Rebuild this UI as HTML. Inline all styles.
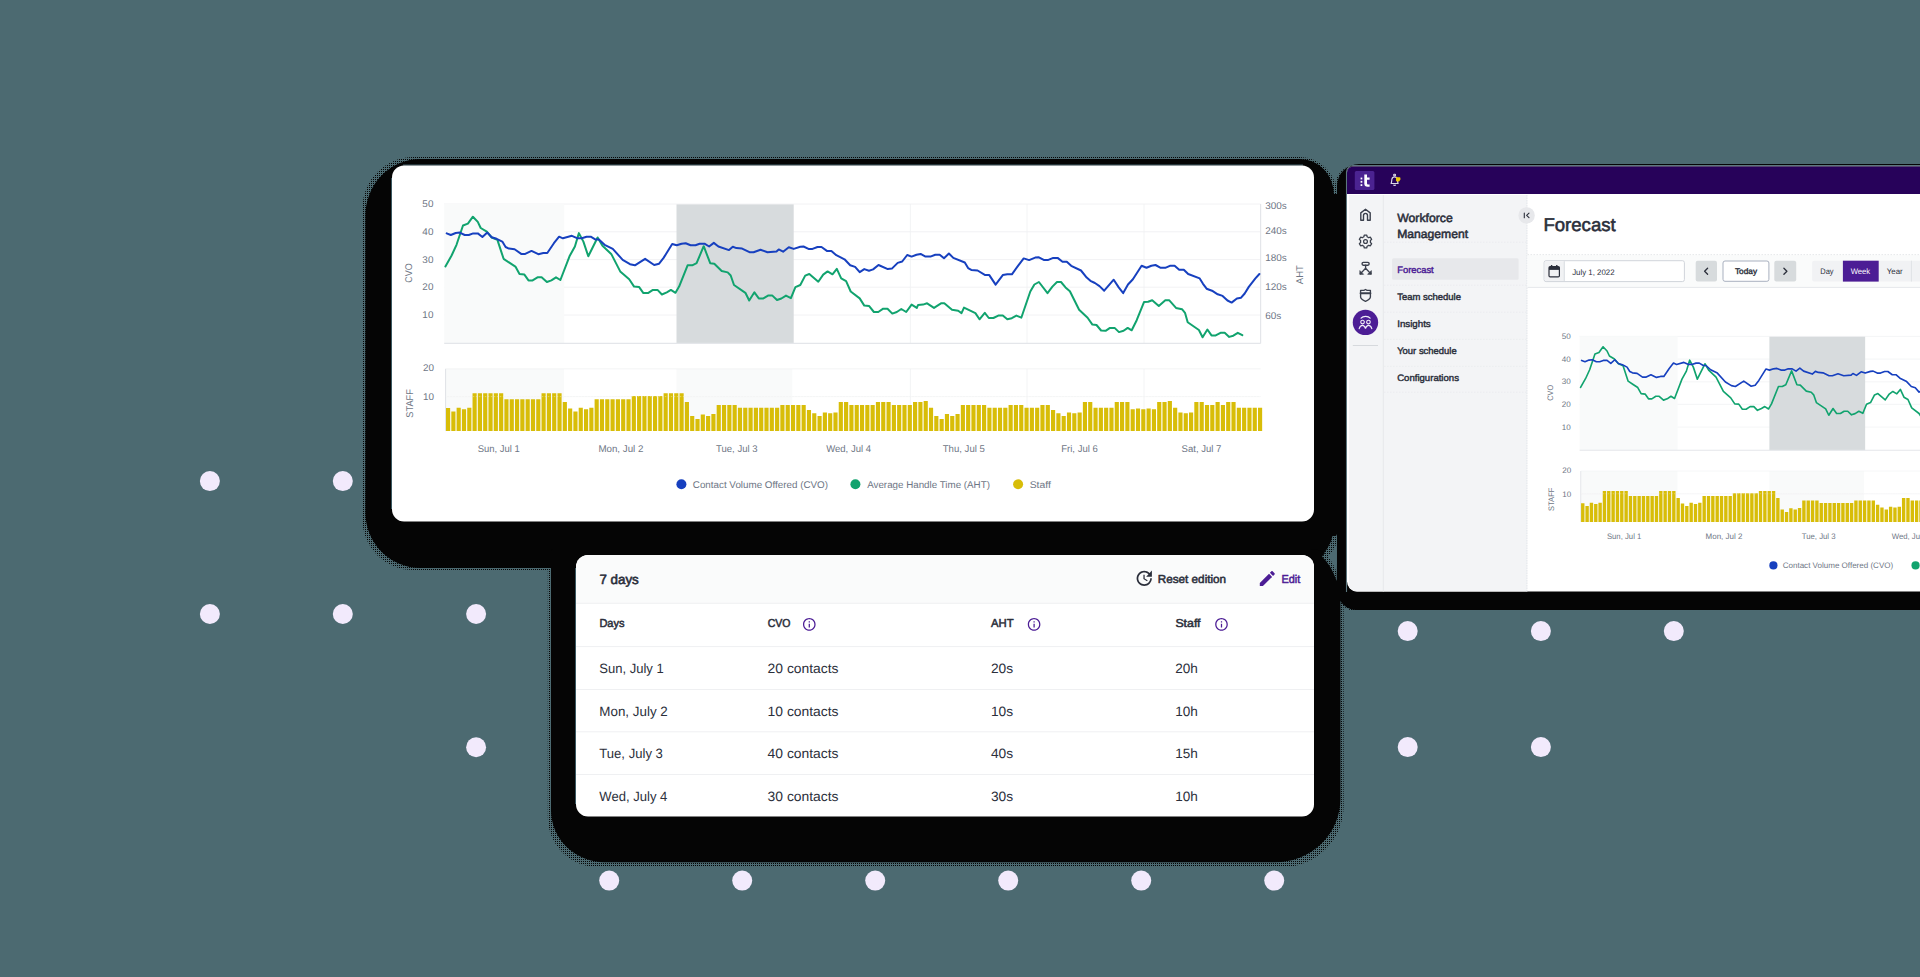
<!DOCTYPE html>
<html><head><meta charset="utf-8"><title>Forecast</title>
<style>
html,body{margin:0;padding:0;width:1920px;height:977px;overflow:hidden;background:#4c6a71;}
svg{display:block;position:absolute;left:0;top:0;font-family:"Liberation Sans",sans-serif;}
text{white-space:pre;}
</style></head><body>
<svg width="1920" height="977" viewBox="0 0 1920 977" shape-rendering="auto" text-rendering="geometricPrecision">
<defs><pattern id="dith" width="2" height="2" patternUnits="userSpaceOnUse"><rect x="1" y="1" width="1" height="1" fill="#050505"/></pattern><clipPath id="c3"><path d="M1353 166.4H1930V591.5H1357a10 10 0 0 1 -10 -10V172.4a6 6 0 0 1 6 -6z"/></clipPath><clipPath id="c3main"><rect x="1527.5" y="288" width="400" height="303"/></clipPath></defs><path d="M413.4 157.0H1300A37 38 0 0 1 1337 195.0V532.0A37 38 0 0 1 1300 570.0H413.29999999999995A50.9 50.5 0 0 1 362.4 519.5V208.6A51 51.6 0 0 1 413.4 157.0z" fill="url(#dith)"/><path d="M553.0 547H1310.4A33.2 32 0 0 1 1343.6000000000001 579V805.9999999999999A61.400000000000006 61.099999999999994 0 0 1 1282.2 867.0999999999999H597.6999999999999A49.900000000000006 49.8 0 0 1 547.8 817.3V551A5.2 4 0 0 1 553.0 547z" fill="url(#dith)"/><path d="M1359 164.1H1985A5 5 0 0 1 1990 169.1V605A5 6 0 0 1 1985 611H1357A22 21 0 0 1 1335 590V186.1A24 22 0 0 1 1359 164.1z" fill="url(#dith)"/><path d="M420.4 159.0H1300A34 36 0 0 1 1334 195.0V525.0A41 43 0 0 1 1293 568.0H420.29999999999995A54.9 55.5 0 0 1 365.4 512.5V215.6A55 56.6 0 0 1 420.4 159.0z" fill="#050505"/><path d="M553.0 549H1310.4A30 30 0 0 1 1340.4 579V799.0A65.2 63.3 0 0 1 1275.2 862.3H604.7A53.7 52 0 0 1 551.0 810.3V551A2 2 0 0 1 553.0 549z" fill="#050505"/><path d="M1359 164.1H1985A5 5 0 0 1 1990 169.1V605A5 5 0 0 1 1985 610H1357A20 20 0 0 1 1337 590V186.1A22 22 0 0 1 1359 164.1z" fill="#050505"/><rect x="1328" y="194" width="14" height="342" fill="#050505"/><rect x="1328" y="580" width="14" height="20" fill="#050505"/><path d="M1336.8 534 Q1331 548 1322 556.5 Q1331 565 1336.8 581z" fill="#4c6a71"/><path d="M1336.8 534 Q1331 548 1322 556.5 Q1331 565 1336.8 581z" fill="url(#dith)"/><path d="M1336.8 543 Q1333 552 1327.5 556.8 Q1333 562 1336.8 573z" fill="#4c6a71"/><circle cx="209.9" cy="481.1" r="10" fill="#f2eafc"/><circle cx="342.8" cy="481.1" r="10" fill="#f2eafc"/><circle cx="209.9" cy="614" r="10" fill="#f2eafc"/><circle cx="342.8" cy="614" r="10" fill="#f2eafc"/><circle cx="476.1" cy="614" r="10" fill="#f2eafc"/><circle cx="476.1" cy="747.2" r="10" fill="#f2eafc"/><circle cx="609.2" cy="880.6" r="10" fill="#f2eafc"/><circle cx="742.2" cy="880.6" r="10" fill="#f2eafc"/><circle cx="875.2" cy="880.6" r="10" fill="#f2eafc"/><circle cx="1008.2" cy="880.6" r="10" fill="#f2eafc"/><circle cx="1141.2" cy="880.6" r="10" fill="#f2eafc"/><circle cx="1274.2" cy="880.6" r="10" fill="#f2eafc"/><circle cx="1407.7" cy="631.1" r="10" fill="#f2eafc"/><circle cx="1540.9" cy="631.1" r="10" fill="#f2eafc"/><circle cx="1673.8" cy="631.1" r="10" fill="#f2eafc"/><circle cx="1407.7" cy="747.1" r="10" fill="#f2eafc"/><circle cx="1540.9" cy="747.1" r="10" fill="#f2eafc"/><path d="M403 165H1303M391.6 178V509" fill="none" stroke="#4a6d78" stroke-width="0.9"/><path d="M575.6 568V804" fill="none" stroke="#4a6d78" stroke-width="0.9"/><rect x="392" y="165.4" width="922" height="356.20000000000005" rx="12" ry="12" fill="#ffffff" /><g id="chart"><line x1="444.2" x2="1260.6" y1="204.0" y2="204.0" stroke="#f0f1f3" stroke-width="0.9"/><line x1="444.2" x2="1260.6" y1="231.8" y2="231.8" stroke="#f0f1f3" stroke-width="0.9"/><line x1="444.2" x2="1260.6" y1="259.6" y2="259.6" stroke="#f0f1f3" stroke-width="0.9"/><line x1="444.2" x2="1260.6" y1="287.2" y2="287.2" stroke="#f0f1f3" stroke-width="0.9"/><line x1="444.2" x2="1260.6" y1="315.0" y2="315.0" stroke="#f0f1f3" stroke-width="0.9"/><line x1="910.4" x2="910.4" y1="204.0" y2="343.4" stroke="#f0f1f3" stroke-width="0.8"/><line x1="910.4" x2="910.4" y1="368.8" y2="431.1" stroke="#f0f1f3" stroke-width="0.8"/><line x1="1027.0" x2="1027.0" y1="204.0" y2="343.4" stroke="#f0f1f3" stroke-width="0.8"/><line x1="1027.0" x2="1027.0" y1="368.8" y2="431.1" stroke="#f0f1f3" stroke-width="0.8"/><line x1="1144.0" x2="1144.0" y1="204.0" y2="343.4" stroke="#f0f1f3" stroke-width="0.8"/><line x1="1144.0" x2="1144.0" y1="368.8" y2="431.1" stroke="#f0f1f3" stroke-width="0.8"/><rect x="444.2" y="204.0" width="120.00000000000006" height="139.39999999999998" fill="#f9fafa"/><rect x="676.5" y="204.4" width="117.20000000000005" height="138.99999999999997" fill="#d7dbdd"/><rect x="445.8" y="368.8" width="118.19999999999999" height="62.30000000000001" fill="#f9fafa"/><rect x="676.5" y="368.8" width="115.79999999999995" height="62.30000000000001" fill="#f9fafa"/><line x1="444.2" x2="1260.6" y1="343.4" y2="343.4" stroke="#e4e6ea" stroke-width="1.3"/><line x1="1260.6" x2="1260.6" y1="204.0" y2="343.4" stroke="#e4e6ea" stroke-width="1.2"/><line x1="445.8" x2="1260.6" y1="368.8" y2="368.8" stroke="#f0f1f3" stroke-width="0.8"/><line x1="445.8" x2="1260.6" y1="396.6" y2="396.6" stroke="#f0f1f3" stroke-width="0.8"/><line x1="445.6" x2="445.6" y1="368.8" y2="431.1" stroke="#dfe2e6" stroke-width="1"/><path d="M446.00 431.1V408.12h4.15V431.1zM451.31 431.1V411.56h4.15V431.1zM456.61 431.1V407.66h4.15V431.1zM461.92 431.1V409.22h4.15V431.1zM467.23 431.1V407.66h4.15V431.1zM472.54 431.1V393.28h4.15V431.1zM477.84 431.1V393.28h4.15V431.1zM483.15 431.1V393.28h4.15V431.1zM488.46 431.1V393.28h4.15V431.1zM493.76 431.1V393.28h4.15V431.1zM499.07 431.1V393.28h4.15V431.1zM504.38 431.1V399.22h4.15V431.1zM509.69 431.1V399.22h4.15V431.1zM514.99 431.1V399.22h4.15V431.1zM520.30 431.1V399.22h4.15V431.1zM525.61 431.1V399.22h4.15V431.1zM530.92 431.1V399.22h4.15V431.1zM536.22 431.1V399.22h4.15V431.1zM541.53 431.1V393.28h4.15V431.1zM546.84 431.1V393.28h4.15V431.1zM552.14 431.1V393.28h4.15V431.1zM557.45 431.1V393.28h4.15V431.1zM562.76 431.1V401.88h4.15V431.1zM568.07 431.1V408.44h4.15V431.1zM573.37 431.1V411.56h4.15V431.1zM578.68 431.1V407.66h4.15V431.1zM583.99 431.1V409.22h4.15V431.1zM589.29 431.1V407.66h4.15V431.1zM594.60 431.1V399.22h4.15V431.1zM599.91 431.1V399.22h4.15V431.1zM605.22 431.1V399.22h4.15V431.1zM610.52 431.1V399.22h4.15V431.1zM615.83 431.1V399.22h4.15V431.1zM621.14 431.1V399.22h4.15V431.1zM626.44 431.1V399.22h4.15V431.1zM631.75 431.1V396.09h4.15V431.1zM637.06 431.1V396.09h4.15V431.1zM642.37 431.1V396.09h4.15V431.1zM647.67 431.1V396.09h4.15V431.1zM652.98 431.1V396.09h4.15V431.1zM658.29 431.1V396.09h4.15V431.1zM663.59 431.1V393.28h4.15V431.1zM668.90 431.1V393.28h4.15V431.1zM674.21 431.1V393.28h4.15V431.1zM679.52 431.1V393.28h4.15V431.1zM684.82 431.1V401.88h4.15V431.1zM690.13 431.1V415.94h4.15V431.1zM695.44 431.1V419.06h4.15V431.1zM700.75 431.1V414.38h4.15V431.1zM706.05 431.1V415.94h4.15V431.1zM711.36 431.1V414.06h4.15V431.1zM716.67 431.1V405.00h4.15V431.1zM721.97 431.1V405.00h4.15V431.1zM727.28 431.1V405.00h4.15V431.1zM732.59 431.1V405.00h4.15V431.1zM737.90 431.1V407.81h4.15V431.1zM743.20 431.1V407.81h4.15V431.1zM748.51 431.1V407.81h4.15V431.1zM753.82 431.1V407.81h4.15V431.1zM759.12 431.1V407.81h4.15V431.1zM764.43 431.1V407.81h4.15V431.1zM769.74 431.1V407.81h4.15V431.1zM775.05 431.1V407.81h4.15V431.1zM780.35 431.1V405.00h4.15V431.1zM785.66 431.1V405.00h4.15V431.1zM790.97 431.1V405.00h4.15V431.1zM796.27 431.1V405.00h4.15V431.1zM801.58 431.1V405.00h4.15V431.1zM806.89 431.1V410.00h4.15V431.1zM812.20 431.1V413.28h4.15V431.1zM817.50 431.1V415.94h4.15V431.1zM822.81 431.1V412.50h4.15V431.1zM828.12 431.1V413.28h4.15V431.1zM833.42 431.1V412.50h4.15V431.1zM838.73 431.1V401.88h4.15V431.1zM844.04 431.1V401.88h4.15V431.1zM849.35 431.1V405.00h4.15V431.1zM854.65 431.1V405.00h4.15V431.1zM859.96 431.1V405.00h4.15V431.1zM865.27 431.1V405.00h4.15V431.1zM870.58 431.1V405.00h4.15V431.1zM875.88 431.1V401.88h4.15V431.1zM881.19 431.1V401.88h4.15V431.1zM886.50 431.1V401.88h4.15V431.1zM891.80 431.1V405.00h4.15V431.1zM897.11 431.1V405.00h4.15V431.1zM902.42 431.1V405.00h4.15V431.1zM907.73 431.1V405.00h4.15V431.1zM913.03 431.1V401.88h4.15V431.1zM918.34 431.1V401.88h4.15V431.1zM923.65 431.1V401.09h4.15V431.1zM928.95 431.1V407.66h4.15V431.1zM934.26 431.1V415.94h4.15V431.1zM939.57 431.1V419.06h4.15V431.1zM944.88 431.1V414.06h4.15V431.1zM950.18 431.1V415.94h4.15V431.1zM955.49 431.1V414.06h4.15V431.1zM960.80 431.1V405.00h4.15V431.1zM966.10 431.1V405.00h4.15V431.1zM971.41 431.1V405.00h4.15V431.1zM976.72 431.1V405.00h4.15V431.1zM982.03 431.1V405.00h4.15V431.1zM987.33 431.1V407.81h4.15V431.1zM992.64 431.1V407.81h4.15V431.1zM997.95 431.1V407.81h4.15V431.1zM1003.25 431.1V407.81h4.15V431.1zM1008.56 431.1V405.00h4.15V431.1zM1013.87 431.1V405.00h4.15V431.1zM1019.18 431.1V405.00h4.15V431.1zM1024.48 431.1V407.81h4.15V431.1zM1029.79 431.1V407.81h4.15V431.1zM1035.10 431.1V407.81h4.15V431.1zM1040.41 431.1V405.00h4.15V431.1zM1045.71 431.1V405.00h4.15V431.1zM1051.02 431.1V410.00h4.15V431.1zM1056.33 431.1V413.28h4.15V431.1zM1061.63 431.1V415.94h4.15V431.1zM1066.94 431.1V412.50h4.15V431.1zM1072.25 431.1V413.28h4.15V431.1zM1077.56 431.1V412.50h4.15V431.1zM1082.86 431.1V401.88h4.15V431.1zM1088.17 431.1V401.88h4.15V431.1zM1093.48 431.1V407.66h4.15V431.1zM1098.78 431.1V407.66h4.15V431.1zM1104.09 431.1V407.66h4.15V431.1zM1109.40 431.1V407.66h4.15V431.1zM1114.71 431.1V401.88h4.15V431.1zM1120.01 431.1V401.88h4.15V431.1zM1125.32 431.1V401.88h4.15V431.1zM1130.63 431.1V409.22h4.15V431.1zM1135.93 431.1V408.44h4.15V431.1zM1141.24 431.1V409.22h4.15V431.1zM1146.55 431.1V408.44h4.15V431.1zM1151.86 431.1V409.22h4.15V431.1zM1157.16 431.1V401.88h4.15V431.1zM1162.47 431.1V401.88h4.15V431.1zM1167.78 431.1V401.09h4.15V431.1zM1173.08 431.1V407.66h4.15V431.1zM1178.39 431.1V412.50h4.15V431.1zM1183.70 431.1V413.28h4.15V431.1zM1189.01 431.1V412.50h4.15V431.1zM1194.31 431.1V401.88h4.15V431.1zM1199.62 431.1V401.88h4.15V431.1zM1204.93 431.1V405.00h4.15V431.1zM1210.24 431.1V405.00h4.15V431.1zM1215.54 431.1V401.88h4.15V431.1zM1220.85 431.1V405.00h4.15V431.1zM1226.16 431.1V401.88h4.15V431.1zM1231.46 431.1V401.88h4.15V431.1zM1236.77 431.1V407.66h4.15V431.1zM1242.08 431.1V407.66h4.15V431.1zM1247.39 431.1V407.66h4.15V431.1zM1252.69 431.1V407.66h4.15V431.1zM1258.00 431.1V407.66h4.15V431.1z" fill="#d8bd08"/><line x1="445.8" x2="1260.6" y1="396.6" y2="396.6" stroke="#ffffff" stroke-opacity="0.35" stroke-width="1" stroke-dasharray="1.5 1.5"/><polyline points="445.4,266.5 451.6,255.5 456.5,244.8 463.0,225.5 467.9,223.6 472.9,216.7 477.8,221.9 480.7,228.0 486.8,231.7 491.7,237.5 497.4,239.9 503.6,258.8 509.7,262.9 515.4,266.6 519.5,274.0 524.4,274.6 528.5,280.4 532.6,280.4 537.5,277.3 541.6,277.3 546.9,282.0 551.4,280.4 556.0,277.3 560.4,280.0 569.5,256.3 574.9,246.5 578.9,233.1 583.4,241.6 588.3,256.3 597.6,237.5 602.5,245.7 611.2,253.9 620.2,271.4 629.2,279.2 634.1,286.6 639.0,286.9 643.4,293.1 648.0,293.1 652.9,289.9 657.5,289.9 661.9,294.5 666.8,292.3 670.9,289.9 675.5,292.8 679.1,286.6 687.6,265.3 692.2,265.3 696.6,263.2 703.7,246.2 710.2,263.2 714.3,263.7 721.7,271.0 727.7,272.4 730.7,275.5 734.0,285.0 745.4,292.8 749.2,300.5 754.4,292.3 758.8,298.4 763.4,298.4 768.0,295.6 772.4,295.6 777.0,300.0 781.4,298.5 786.0,295.6 790.9,298.1 795.4,287.1 800.3,285.0 805.2,275.6 809.3,274.0 818.3,281.7 823.2,274.6 827.6,271.4 832.5,274.3 836.8,268.9 841.2,278.4 846.1,281.2 850.7,291.5 859.7,298.4 864.3,305.6 869.0,305.9 873.9,312.0 878.3,312.0 883.2,308.7 887.5,308.7 892.3,313.6 896.8,312.0 901.3,309.0 906.2,312.0 911.6,304.6 916.8,307.9 918.1,304.9 923.0,304.6 927.1,303.3 934.0,307.9 941.0,303.3 944.3,303.3 952.0,309.8 958.2,310.8 961.5,313.1 964.0,307.6 975.4,313.1 979.5,319.3 984.8,312.8 988.8,318.0 993.4,318.0 998.3,315.6 1002.8,315.6 1007.3,319.3 1011.8,318.2 1016.4,315.6 1021.3,317.7 1030.3,291.5 1034.4,284.5 1038.9,282.0 1047.5,293.1 1052.4,286.6 1057.0,282.0 1061.0,282.0 1065.5,287.4 1069.9,291.2 1079.1,309.8 1087.6,317.7 1092.4,324.6 1096.5,325.0 1101.1,330.5 1105.6,330.8 1110.0,327.9 1114.6,327.9 1119.0,332.1 1123.6,330.8 1127.7,327.9 1131.7,330.3 1136.7,320.2 1144.0,302.1 1148.1,301.8 1152.2,300.2 1158.8,305.9 1165.3,300.2 1169.1,300.2 1176.0,307.9 1182.0,309.2 1185.0,312.8 1187.7,322.3 1198.9,330.0 1202.6,337.3 1207.4,329.5 1211.5,335.4 1215.7,335.4 1220.5,332.8 1224.7,332.8 1229.2,336.9 1233.3,335.7 1237.8,332.8 1242.3,335.2" fill="none" stroke="#11a36e" stroke-width="2" stroke-linejoin="round" stroke-linecap="round"/><polyline points="446.7,233.4 450.8,235.0 455.7,233.0 459.8,232.6 464.7,235.0 468.8,235.0 473.2,233.4 477.8,233.4 482.4,237.0 487.3,232.6 491.7,237.2 496.6,238.8 502.3,241.6 505.6,247.0 508.9,248.6 514.6,249.3 521.2,253.9 525.2,253.9 531.5,250.9 538.3,254.2 543.3,253.0 547.3,253.0 553.9,243.2 559.1,236.7 562.9,238.3 571.9,235.8 577.6,238.3 581.7,238.3 586.6,236.7 590.7,236.7 595.6,239.6 598.9,239.6 604.6,244.8 612.8,248.9 622.7,259.9 630.0,264.2 634.9,265.3 645.1,258.8 654.2,265.0 659.1,263.7 663.6,257.9 672.2,244.0 676.7,245.3 681.6,243.7 685.7,243.2 690.6,245.2 695.5,245.2 699.6,243.7 704.5,243.7 709.1,246.5 713.8,242.9 718.4,246.5 729.0,250.1 732.8,246.8 736.4,248.1 742.1,248.6 749.5,252.2 753.6,252.2 760.5,249.8 767.5,252.2 776.5,251.4 778.7,249.4 783.1,251.7 788.8,247.3 793.7,248.9 800.3,246.8 803.5,246.5 808.5,248.9 812.5,248.9 817.5,247.0 821.5,247.0 826.9,250.9 831.4,250.9 836.3,255.2 844.5,259.3 850.2,265.3 855.1,266.9 859.7,272.2 864.3,269.1 869.0,270.7 873.1,269.4 878.5,265.0 887.8,269.1 891.9,268.6 897.7,262.9 902.2,261.5 907.2,255.0 911.6,256.6 916.5,254.7 920.6,253.9 925.5,256.6 930.4,256.6 935.3,254.7 939.7,254.7 944.0,258.3 948.9,253.5 953.3,257.9 964.8,262.5 968.1,268.1 971.3,269.9 977.6,270.5 985.2,275.1 989.3,275.1 995.6,284.6 1002.8,275.1 1007.3,274.3 1011.9,274.3 1018.0,265.8 1023.7,258.4 1029.1,260.1 1035.2,257.6 1038.9,257.3 1044.2,260.1 1047.8,260.1 1053.2,257.9 1057.6,257.9 1062.5,261.7 1066.8,261.7 1071.2,265.8 1081.0,270.5 1086.7,277.6 1090.4,280.8 1094.9,283.0 1099.5,286.1 1104.2,290.7 1113.7,279.7 1118.7,287.4 1123.2,293.1 1128.0,284.5 1132.9,279.2 1141.6,265.8 1146.5,267.8 1151.4,265.8 1155.5,265.0 1160.7,267.8 1165.3,267.8 1169.9,265.8 1174.6,265.8 1179.2,269.7 1183.8,269.7 1188.2,274.0 1199.7,278.4 1203.0,283.8 1206.6,288.7 1212.0,290.7 1217.7,294.3 1222.6,295.9 1227.5,300.5 1231.6,302.6 1236.9,298.5 1241.1,297.7 1244.7,293.5 1248.8,286.9 1255.4,278.4 1259.4,274.0" fill="none" stroke="#1740bf" stroke-width="2" stroke-linejoin="round" stroke-linecap="round"/><circle cx="681.4" cy="484.3" r="5" fill="#1740bf"/><circle cx="855.4" cy="484.3" r="5" fill="#11a36e"/><circle cx="1018.1" cy="484.3" r="5" fill="#d8bd08"/><text x="422.38" y="207.09" font-size="9.8" font-weight="normal" fill="#6e7685" textLength="11.02" lengthAdjust="spacingAndGlyphs">50</text><text x="422.38" y="234.88" font-size="9.8" font-weight="normal" fill="#6e7685" textLength="11.02" lengthAdjust="spacingAndGlyphs">40</text><text x="422.38" y="262.79" font-size="9.8" font-weight="normal" fill="#6e7685" textLength="11.02" lengthAdjust="spacingAndGlyphs">30</text><text x="422.38" y="289.99" font-size="9.8" font-weight="normal" fill="#6e7685" textLength="11.02" lengthAdjust="spacingAndGlyphs">20</text><text x="422.38" y="318.08" font-size="9.8" font-weight="normal" fill="#6e7685" textLength="11.02" lengthAdjust="spacingAndGlyphs">10</text><text x="1265.20" y="208.78" font-size="9.8" font-weight="normal" fill="#6e7685" textLength="21.58" lengthAdjust="spacingAndGlyphs">300s</text><text x="1265.20" y="233.99" font-size="9.8" font-weight="normal" fill="#6e7685" textLength="21.58" lengthAdjust="spacingAndGlyphs">240s</text><text x="1265.20" y="260.88" font-size="9.8" font-weight="normal" fill="#6e7685" textLength="21.58" lengthAdjust="spacingAndGlyphs">180s</text><text x="1265.20" y="289.58" font-size="9.8" font-weight="normal" fill="#6e7685" textLength="21.58" lengthAdjust="spacingAndGlyphs">120s</text><text x="1265.20" y="318.88" font-size="9.8" font-weight="normal" fill="#6e7685" textLength="16.08" lengthAdjust="spacingAndGlyphs">60s</text><text x="423.08" y="370.79" font-size="9.8" font-weight="normal" fill="#6e7685" textLength="11.02" lengthAdjust="spacingAndGlyphs">20</text><text x="423.08" y="400.08" font-size="9.8" font-weight="normal" fill="#6e7685" textLength="11.02" lengthAdjust="spacingAndGlyphs">10</text><text x="399.35" y="276.19" font-size="9.8" font-weight="normal" fill="#6e7685" textLength="19.30" lengthAdjust="spacingAndGlyphs" transform="rotate(-90 409.00 273.00)">CVO</text><text x="395.34" y="406.58" font-size="9.8" font-weight="normal" fill="#6e7685" textLength="28.52" lengthAdjust="spacingAndGlyphs" transform="rotate(-90 409.60 403.40)">STAFF</text><text x="1290.05" y="277.79" font-size="9.8" font-weight="normal" fill="#6e7685" textLength="19.09" lengthAdjust="spacingAndGlyphs" transform="rotate(-90 1299.60 274.60)">AHT</text><text x="477.64" y="451.58" font-size="9.8" font-weight="normal" fill="#6e7685" textLength="42.12" lengthAdjust="spacingAndGlyphs">Sun, Jul 1</text><text x="598.38" y="451.58" font-size="9.8" font-weight="normal" fill="#6e7685" textLength="45.05" lengthAdjust="spacingAndGlyphs">Mon, Jul 2</text><text x="716.06" y="451.58" font-size="9.8" font-weight="normal" fill="#6e7685" textLength="41.48" lengthAdjust="spacingAndGlyphs">Tue, Jul 3</text><text x="826.23" y="451.58" font-size="9.8" font-weight="normal" fill="#6e7685" textLength="44.75" lengthAdjust="spacingAndGlyphs">Wed, Jul 4</text><text x="942.74" y="451.58" font-size="9.8" font-weight="normal" fill="#6e7685" textLength="42.12" lengthAdjust="spacingAndGlyphs">Thu, Jul 5</text><text x="1061.26" y="451.58" font-size="9.8" font-weight="normal" fill="#6e7685" textLength="36.48" lengthAdjust="spacingAndGlyphs">Fri, Jul 6</text><text x="1181.58" y="451.58" font-size="9.8" font-weight="normal" fill="#6e7685" textLength="39.84" lengthAdjust="spacingAndGlyphs">Sat, Jul 7</text><text x="692.80" y="487.79" font-size="9.8" font-weight="normal" fill="#6e7685" textLength="135.20" lengthAdjust="spacingAndGlyphs">Contact Volume Offered (CVO)</text><text x="867.20" y="487.79" font-size="9.8" font-weight="normal" fill="#6e7685" textLength="122.70" lengthAdjust="spacingAndGlyphs">Average Handle Time (AHT)</text><text x="1029.70" y="487.79" font-size="9.8" font-weight="normal" fill="#6e7685" textLength="21.20" lengthAdjust="spacingAndGlyphs">Staff</text></g><rect x="576" y="555" width="738" height="261.6" rx="12" ry="12" fill="#ffffff" /><path d="M576 603.3V567a12 12 0 0 1 12 -12H1302a12 12 0 0 1 12 12V603.3z" fill="#fafbfb"/><line x1="576" x2="1314" y1="603.3" y2="603.3" stroke="#eff0f2" stroke-width="1"/><line x1="576" x2="1314" y1="646.6" y2="646.6" stroke="#eff0f2" stroke-width="1"/><line x1="576" x2="1314" y1="689.5" y2="689.5" stroke="#eff0f2" stroke-width="1"/><line x1="576" x2="1314" y1="731.8" y2="731.8" stroke="#eff0f2" stroke-width="1"/><line x1="576" x2="1314" y1="774.5" y2="774.5" stroke="#eff0f2" stroke-width="1"/><path transform="translate(801.74 616.84) scale(0.63)" fill="#4c1d95" d="M11 17h2v-6h-2v6zm1-15C6.48 2 2 6.48 2 12s4.48 10 10 10 10-4.48 10-10S17.52 2 12 2zm0 18c-4.41 0-8-3.59-8-8s3.59-8 8-8 8 3.59 8 8-3.59 8-8 8zM11 9h2V7h-2v2z"/><path transform="translate(1026.54 616.84) scale(0.63)" fill="#4c1d95" d="M11 17h2v-6h-2v6zm1-15C6.48 2 2 6.48 2 12s4.48 10 10 10 10-4.48 10-10S17.52 2 12 2zm0 18c-4.41 0-8-3.59-8-8s3.59-8 8-8 8 3.59 8 8-3.59 8-8 8zM11 9h2V7h-2v2z"/><path transform="translate(1213.94 616.84) scale(0.63)" fill="#4c1d95" d="M11 17h2v-6h-2v6zm1-15C6.48 2 2 6.48 2 12s4.48 10 10 10 10-4.48 10-10S17.52 2 12 2zm0 18c-4.41 0-8-3.59-8-8s3.59-8 8-8 8 3.59 8 8-3.59 8-8 8zM11 9h2V7h-2v2z"/><path transform="translate(1134.05 568.05) scale(0.85)" fill="#2b2f3b" d="M21 10.12h-6.78l2.74-2.82c-2.73-2.7-7.15-2.8-9.88-.1-2.73 2.71-2.73 7.08 0 9.79s7.15 2.71 9.88 0C18.32 15.65 19 14.08 19 12.1h2c0 1.98-.88 4.55-2.64 6.29-3.51 3.48-9.21 3.48-12.72 0-3.5-3.47-3.53-9.11-.02-12.58s9.14-3.47 12.65 0L21 3v7.12zM12.5 8v4.25l3.5 2.08-.72 1.21L11 13V8h1.5z"/><path transform="translate(1257.3 568.6) scale(0.833)" fill="#4c1d95" d="M3 17.25V21h3.75L17.81 9.94l-3.75-3.75L3 17.25zM20.71 7.04c.39-.39.39-1.02 0-1.41l-2.34-2.34c-.39-.39-1.02-.39-1.41 0l-1.83 1.83 3.75 3.75 1.83-1.83z"/><path d="M1346.5 592V172a6.5 6.5 0 0 1 6.5 -6.5H1930" fill="none" stroke="#5d777f" stroke-width="1.1"/><g clip-path="url(#c3)"><rect x="1347" y="166" width="600" height="426" fill="#ffffff"/><rect x="1347" y="166" width="600" height="28" fill="#27025a"/><rect x="1349" y="195" width="178.3" height="400" fill="#f3f4f6"/><line x1="1383.3" x2="1383.3" y1="195" y2="592" stroke="#e6e8eb" stroke-width="1"/><line x1="1526.9" x2="1526.9" y1="195" y2="592" stroke="#e4e6ea" stroke-width="1" stroke-dasharray="1.5 1"/><rect x="1354.8" y="171" width="19.6" height="19" rx="1.5" fill="#4b2391"/><g fill="#fff"><rect x="1360.6" y="177.6" width="1.7" height="1.8"/><rect x="1360.6" y="180.9" width="1.7" height="1.8"/><rect x="1360.6" y="184.2" width="1.7" height="1.8"/><path d="M1364.3 174.4h2.7v3.2h2.6v2.2h-2.6v3.4c0 .9 .5 1.3 1.3 1.3h1.3v2.3h-2c-2.2 0-3.3-1.1-3.3-3.3z"/></g><g transform="translate(1394.6 180.1)" fill="none" stroke="#dcd8e6" stroke-width="1.15" stroke-linejoin="round"><path d="M-3.5 3.4 C-2.9 2.2 -2.9 0 -2.7 -1 A2.75 2.75 0 0 1 2.7 -1 C2.9 0 2.9 2.2 3.5 3.4z"/><path d="M-1.1 4.6a1.2 1.2 0 0 0 2.2 0"/><rect x="-0.9" y="-5.9" width="1.8" height="1.5" rx=".5"/></g><path d="M1396 177.2h3.6a.8 .8 0 0 1 .8 .8v1.8l-1.4 1.6h-2.2a.8 .8 0 0 1 -.8 -.8z" fill="#ecc907"/><g fill="none" stroke="#3b404d" stroke-width="1.4" stroke-linejoin="round" stroke-linecap="round"><path transform="translate(1365.5 214.8)" d="M-4.7 5.4V-1.9L0 -5.5L4.7 -1.9V5.4H2V0.6A2 2 0 0 0 -2 0.6V5.4z"/><g transform="translate(1365.5 241.5)" stroke-width="1.3"><path d="M4.91 0.95 L6.15 2.12 L4.91 4.26 L3.28 3.77 L1.63 4.73 L1.24 6.38 L-1.24 6.38 L-1.63 4.73 L-3.28 3.77 L-4.91 4.26 L-6.15 2.12 L-4.91 0.95 L-4.91 -0.95 L-6.15 -2.12 L-4.91 -4.26 L-3.28 -3.77 L-1.63 -4.73 L-1.24 -6.38 L1.24 -6.38 L1.63 -4.73 L3.28 -3.77 L4.91 -4.26 L6.15 -2.12 L4.91 -0.95z"/><circle r="1.9"/></g><g transform="translate(1365.6 268.6)" stroke-width="1.35"><rect x="-3.5" y="-6.3" width="7" height="2.9" rx="1.1"/><path d="M0 -3.4V-0.4M0 -0.4L-5.3 5.3M0 -0.4L5.3 5.3"/><path d="M-5.7 2.4V5.7H-2.4zM5.7 2.4V5.7H2.4z" fill="#3b404d" stroke-width="0.8"/></g><g transform="translate(1365.5 295.5)" stroke-width="1.35"><path d="M-4.9 -5.2L-1.6 -5.2L0 -6L1.6 -5.2L4.9 -5.2V1.6C4.9 3.4 2.4 4.8 0 5.8C-2.4 4.8 -4.9 3.4 -4.9 1.6z"/><path d="M-4.9 -2.2H4.9" stroke-width="1.9"/></g></g><circle cx="1365.45" cy="322.4" r="12.7" fill="#4c1d95"/><g transform="translate(1365.5 322.4)" fill="none" stroke="#f1eef7" stroke-width="1.15" stroke-linecap="round"><circle cx="-2.95" cy="-0.3" r="1.8"/><circle cx="2.95" cy="-0.3" r="1.8"/><path d="M-6.3 6.2C-5.6 3.8 -4.4 3 -3.1 3S-0.6 3.8 0 6.2C0.6 3.8 1.8 3 3.1 3S5.6 3.8 6.3 6.2"/><path d="M-4.4 -4.2C-2.6 -6.6 2.8 -6.6 4.6 -4.2"/></g><line x1="1352.8" x2="1378" y1="345.5" y2="345.5" stroke="#d6d9dd" stroke-width="1"/><rect x="1392.1" y="258.3" width="126.5" height="21.4" rx="1.5" fill="#e7e8eb"/><line x1="1384" x2="1527" y1="242.3" y2="242.3" stroke="#e9ebee" stroke-width="0.8" stroke-dasharray="1.5 1.5"/><line x1="1384" x2="1527" y1="285.3" y2="285.3" stroke="#e9ebee" stroke-width="0.8" stroke-dasharray="1.5 1.5"/><line x1="1384" x2="1527" y1="312.3" y2="312.3" stroke="#e9ebee" stroke-width="0.8" stroke-dasharray="1.5 1.5"/><line x1="1384" x2="1527" y1="339.4" y2="339.4" stroke="#e9ebee" stroke-width="0.8" stroke-dasharray="1.5 1.5"/><line x1="1384" x2="1527" y1="366.4" y2="366.4" stroke="#e9ebee" stroke-width="0.8" stroke-dasharray="1.5 1.5"/><line x1="1384" x2="1527" y1="392.3" y2="392.3" stroke="#e9ebee" stroke-width="0.8" stroke-dasharray="1.5 1.5"/><circle cx="1526.6" cy="215.4" r="8.2" fill="#e7e8eb"/><g fill="none" stroke="#2b2f3b" stroke-width="1.1" stroke-linecap="round" stroke-linejoin="round"><path d="M1524.3 213.1V217.7"/><path d="M1529 213.1L1526.6 215.4L1529 217.7"/></g><rect x="1527.5" y="254.8" width="400" height="32.4" fill="#fafbfb"/><line x1="1527.5" x2="1930" y1="254.6" y2="254.6" stroke="#e6e8eb" stroke-width="1" stroke-dasharray="1.5 1.5"/><line x1="1527.5" x2="1930" y1="287.4" y2="287.4" stroke="#e6e8eb" stroke-width="1"/><rect x="1544.1" y="260.7" width="140.3" height="20.9" rx="2" fill="#fff" stroke="#d0d4da" stroke-width="1"/><path d="M1546.1 261.2H1564.3V281.1H1546.1a1.5 1.5 0 0 1 -1.5 -1.5V262.7a1.5 1.5 0 0 1 1.5 -1.5z" fill="#f1f2f4"/><line x1="1564.3" x2="1564.3" y1="261.2" y2="281.1" stroke="#d0d4da" stroke-width="0.8"/><g fill="none" stroke="#2b2f3b" stroke-width="1.2"><rect x="1549" y="266.6" width="10.4" height="10.3" rx="1.2"/><path d="M1549 268.4H1559.4" stroke-width="3"/><path d="M1551.6 265V267M1556.8 265V267" stroke-width="1.4"/></g><rect x="1695.7" y="260.7" width="21.3" height="20.9" rx="2" fill="#d7dbdd"/><rect x="1774.3" y="260.7" width="21.9" height="20.9" rx="2" fill="#d7dbdd"/><rect x="1723" y="261" width="45.9" height="20.3" rx="2" fill="#fff" stroke="#a9b0bf" stroke-width="1"/><g fill="none" stroke="#2b2f3b" stroke-width="1.3" stroke-linecap="round" stroke-linejoin="round"><path d="M1707.6 268.2L1704.6 271.2L1707.6 274.2"/><path d="M1783.9 268.2L1786.9 271.2L1783.9 274.2"/></g><path d="M1814.1 260.7H1930V281.6H1814.1a2 2 0 0 1 -2 -2V262.7a2 2 0 0 1 2 -2z" fill="#f1f2f4"/><rect x="1842.9" y="260.7" width="35.8" height="20.9" fill="#4c1d95"/><line x1="1911.4" x2="1911.4" y1="260.7" y2="281.6" stroke="#dfe2e6" stroke-width="1"/><text x="1397.20" y="222.40" font-size="12" font-weight="normal" fill="#2b2f3b" stroke="#2b2f3b" stroke-width="0.54" stroke-linejoin="round" textLength="55.56" lengthAdjust="spacingAndGlyphs">Workforce</text><text x="1397.20" y="238.20" font-size="12" font-weight="normal" fill="#2b2f3b" stroke="#2b2f3b" stroke-width="0.54" stroke-linejoin="round" textLength="70.91" lengthAdjust="spacingAndGlyphs">Management</text><text x="1397.20" y="272.86" font-size="9.4" font-weight="normal" fill="#4c1d95" stroke="#4c1d95" stroke-width="0.42" stroke-linejoin="round" textLength="36.53" lengthAdjust="spacingAndGlyphs">Forecast</text><text x="1397.20" y="299.95" font-size="9.4" font-weight="normal" fill="#2b2f3b" stroke="#2b2f3b" stroke-width="0.42" stroke-linejoin="round" textLength="63.72" lengthAdjust="spacingAndGlyphs">Team schedule</text><text x="1397.20" y="326.95" font-size="9.4" font-weight="normal" fill="#2b2f3b" stroke="#2b2f3b" stroke-width="0.42" stroke-linejoin="round" textLength="33.56" lengthAdjust="spacingAndGlyphs">Insights</text><text x="1397.20" y="353.95" font-size="9.4" font-weight="normal" fill="#2b2f3b" stroke="#2b2f3b" stroke-width="0.42" stroke-linejoin="round" textLength="59.47" lengthAdjust="spacingAndGlyphs">Your schedule</text><text x="1397.20" y="380.95" font-size="9.4" font-weight="normal" fill="#2b2f3b" stroke="#2b2f3b" stroke-width="0.42" stroke-linejoin="round" textLength="61.75" lengthAdjust="spacingAndGlyphs">Configurations</text><text x="1543.40" y="230.91" font-size="18.5" font-weight="normal" fill="#2b2f3b" stroke="#2b2f3b" stroke-width="0.59" stroke-linejoin="round" textLength="72.30" lengthAdjust="spacingAndGlyphs">Forecast</text><text x="1572.20" y="274.70" font-size="8.0" font-weight="normal" fill="#2b2f3b" textLength="42.40" lengthAdjust="spacingAndGlyphs">July 1, 2022</text><text x="1734.97" y="273.87" font-size="8.2" font-weight="normal" fill="#2b2f3b" stroke="#2b2f3b" stroke-width="0.37" stroke-linejoin="round" textLength="22.06" lengthAdjust="spacingAndGlyphs">Today</text><text x="1820.24" y="273.80" font-size="8.0" font-weight="normal" fill="#2b2f3b" textLength="13.33" lengthAdjust="spacingAndGlyphs">Day</text><text x="1850.64" y="273.80" font-size="8.0" font-weight="normal" fill="#ffffff" textLength="19.52" lengthAdjust="spacingAndGlyphs">Week</text><text x="1886.77" y="273.80" font-size="8.0" font-weight="normal" fill="#2b2f3b" textLength="15.86" lengthAdjust="spacingAndGlyphs">Year</text><g clip-path="url(#c3main)"><use href="#chart" transform="translate(1216.69 169.73) scale(0.817)"/></g></g><text x="599.40" y="583.69" font-size="13.5" font-weight="normal" fill="#2b2f3b" stroke="#2b2f3b" stroke-width="0.61" stroke-linejoin="round" textLength="39.38" lengthAdjust="spacingAndGlyphs">7 days</text><text x="1157.80" y="582.64" font-size="11.5" font-weight="normal" fill="#2b2f3b" stroke="#2b2f3b" stroke-width="0.52" stroke-linejoin="round" textLength="68.30" lengthAdjust="spacingAndGlyphs">Reset edition</text><text x="1281.50" y="582.64" font-size="11.5" font-weight="normal" fill="#4c1d95" stroke="#4c1d95" stroke-width="0.52" stroke-linejoin="round" textLength="18.80" lengthAdjust="spacingAndGlyphs">Edit</text><text x="599.40" y="627.44" font-size="11.5" font-weight="normal" fill="#2b2f3b" stroke="#2b2f3b" stroke-width="0.52" stroke-linejoin="round" textLength="25.19" lengthAdjust="spacingAndGlyphs">Days</text><text x="767.70" y="627.44" font-size="11.5" font-weight="normal" fill="#2b2f3b" stroke="#2b2f3b" stroke-width="0.52" stroke-linejoin="round" textLength="22.78" lengthAdjust="spacingAndGlyphs">CVO</text><text x="991.00" y="627.44" font-size="11.5" font-weight="normal" fill="#2b2f3b" stroke="#2b2f3b" stroke-width="0.52" stroke-linejoin="round" textLength="22.64" lengthAdjust="spacingAndGlyphs">AHT</text><text x="1175.40" y="627.44" font-size="11.5" font-weight="normal" fill="#2b2f3b" stroke="#2b2f3b" stroke-width="0.52" stroke-linejoin="round" textLength="25.12" lengthAdjust="spacingAndGlyphs">Staff</text><text x="599.30" y="672.69" font-size="13.5" font-weight="normal" fill="#2b2f3b" textLength="64.42" lengthAdjust="spacingAndGlyphs">Sun, July 1</text><text x="767.60" y="672.69" font-size="13.5" font-weight="normal" fill="#2b2f3b" textLength="70.97" lengthAdjust="spacingAndGlyphs">20 contacts</text><text x="990.90" y="672.69" font-size="13.5" font-weight="normal" fill="#2b2f3b" textLength="22.16" lengthAdjust="spacingAndGlyphs">20s</text><text x="1175.30" y="672.69" font-size="13.5" font-weight="normal" fill="#2b2f3b" textLength="22.62" lengthAdjust="spacingAndGlyphs">20h</text><text x="599.30" y="715.59" font-size="13.5" font-weight="normal" fill="#2b2f3b" textLength="68.45" lengthAdjust="spacingAndGlyphs">Mon, July 2</text><text x="767.60" y="715.59" font-size="13.5" font-weight="normal" fill="#2b2f3b" textLength="70.97" lengthAdjust="spacingAndGlyphs">10 contacts</text><text x="990.90" y="715.59" font-size="13.5" font-weight="normal" fill="#2b2f3b" textLength="22.16" lengthAdjust="spacingAndGlyphs">10s</text><text x="1175.30" y="715.59" font-size="13.5" font-weight="normal" fill="#2b2f3b" textLength="22.62" lengthAdjust="spacingAndGlyphs">10h</text><text x="599.30" y="757.79" font-size="13.5" font-weight="normal" fill="#2b2f3b" textLength="63.55" lengthAdjust="spacingAndGlyphs">Tue, July 3</text><text x="767.60" y="757.79" font-size="13.5" font-weight="normal" fill="#2b2f3b" textLength="70.97" lengthAdjust="spacingAndGlyphs">40 contacts</text><text x="990.90" y="757.79" font-size="13.5" font-weight="normal" fill="#2b2f3b" textLength="22.16" lengthAdjust="spacingAndGlyphs">40s</text><text x="1175.30" y="757.79" font-size="13.5" font-weight="normal" fill="#2b2f3b" textLength="22.62" lengthAdjust="spacingAndGlyphs">15h</text><text x="599.30" y="800.69" font-size="13.5" font-weight="normal" fill="#2b2f3b" textLength="68.06" lengthAdjust="spacingAndGlyphs">Wed, July 4</text><text x="767.60" y="800.69" font-size="13.5" font-weight="normal" fill="#2b2f3b" textLength="70.97" lengthAdjust="spacingAndGlyphs">30 contacts</text><text x="990.90" y="800.69" font-size="13.5" font-weight="normal" fill="#2b2f3b" textLength="22.16" lengthAdjust="spacingAndGlyphs">30s</text><text x="1175.30" y="800.69" font-size="13.5" font-weight="normal" fill="#2b2f3b" textLength="22.62" lengthAdjust="spacingAndGlyphs">10h</text>
</svg>
</body></html>
